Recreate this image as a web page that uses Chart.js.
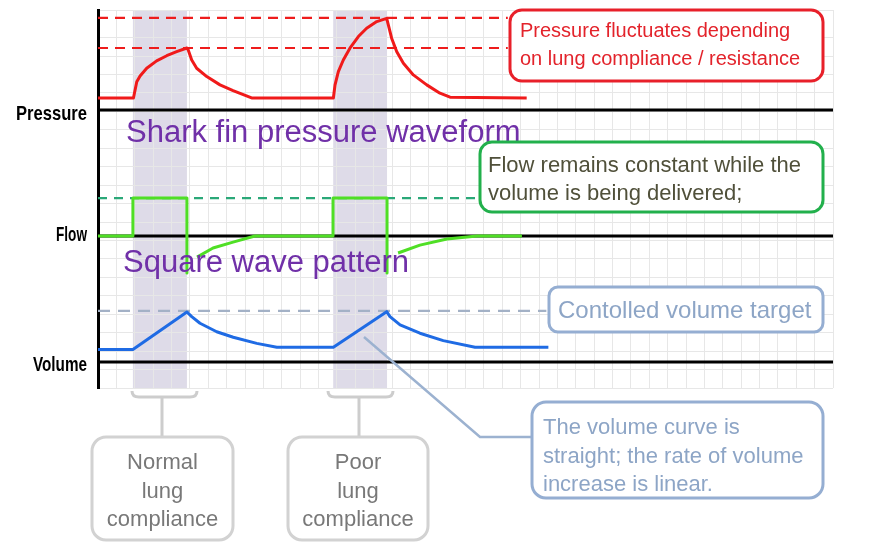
<!DOCTYPE html>
<html>
<head>
<meta charset="utf-8">
<script src="https://cdn.jsdelivr.net/npm/chart.js@4"></script>
<style>
html, body { margin: 0; padding: 0; background: #fff; }
#wave { display: block; }
</style>
</head>
<body>
<canvas id="wave" width="870" height="554"></canvas>
<script>
// x = time in grid cells, waveform values = grid cells above each trace's own baseline
const pressureTime  = [0, 1.93, 2.11, 2.29, 2.65, 3.19, 3.74, 4.28, 4.84, 4.91, 5.10, 5.37, 5.92, 6.64, 7.35, 8.36,
                       12.81, 12.90, 13.08, 13.35, 13.71, 14.17, 14.62, 15.17, 15.71, 15.80, 15.98, 16.26, 16.62, 17.16, 17.89, 18.61, 19.16, 23.33];
const pressureValue = [0.65, 0.65, 1.53, 1.84, 2.26, 2.66, 2.94, 3.16, 3.36, 3.25, 2.71, 2.26, 1.81, 1.36, 1.05, 0.65,
                       0.65, 1.36, 2.08, 2.71, 3.35, 3.98, 4.43, 4.79, 4.97, 4.61, 3.89, 3.16, 2.53, 1.90, 1.36, 0.91, 0.69, 0.65];

const flowTime  = [0, 1.9, 1.9, 4.84, 4.84, 5.1, 5.39, 6.26, 7.35, 8.54, 12.79, 12.79, 15.73, 15.73, 16.0, 16.33, 17.52, 18.99, 20.63, 23.07];
const flowValue = [0, 0, 2.06, 2.06, -2.01, null, -1.14, -0.65, -0.33, 0, 0, 2.06, 2.06, -2.01, null, -0.92, -0.49, -0.16, 0, 0];

const volumeTime  = [0, 1.9, 4.84, 5.10, 5.55, 6.46, 7.36, 8.64, 9.73, 12.81, 15.71, 15.89, 16.44, 17.52, 18.79, 20.52, 24.51];
const volumeValue = [0.68, 0.68, 2.71, 2.46, 2.10, 1.64, 1.34, 1.01, 0.80, 0.80, 2.73, 2.46, 2.01, 1.56, 1.16, 0.80, 0.80];

// dashed reference levels (same units) and where they stop
const pressureLimits = [3.36, 4.99];
const flowSetting = 2.06;
const volumeTarget = 2.77;
const limitEnd = [22.3, 20.8, 24.4];

// baselines of the three traces on the shared y axis
const traceNames = ['Pressure', 'Flow', 'Volume'];
const traceBase = [15.08, 8.24, 1.41];

// shaded inspiration windows
const bandStart = [1.9, 12.8];
const bandEnd = [4.84, 15.73];

const xMax = 40, yMax = 20.5;

const toPoints = (ts, vs, base) => ts.map((t, i) => ({ x: t, y: vs[i] === null ? null : base + vs[i] }));
const hline = (y, x1) => [{ x: 0, y: y }, { x: x1, y: y }];

const datasets = [];
traceBase.forEach(b => datasets.push({ data: hline(b, xMax), borderColor: '#000', borderWidth: 3, order: 10 }));
pressureLimits.forEach(p => datasets.push({
    data: hline(traceBase[0] + p, limitEnd[0]), borderColor: '#ee1c1c', borderWidth: 2.2, borderDash: [10, 7], order: 5
}));
datasets.push({ data: hline(traceBase[1] + flowSetting, limitEnd[1]), borderColor: '#2aa878', borderWidth: 2.2, borderDash: [9, 7], order: 5 });
datasets.push({ data: hline(traceBase[2] + volumeTarget, limitEnd[2]), borderColor: '#a3b1c6', borderWidth: 2.2, borderDash: [12, 8], order: 5 });
datasets.push({ data: toPoints(pressureTime, pressureValue, traceBase[0]), borderColor: '#f01a1a', borderWidth: 3, order: 0 });
datasets.push({ data: toPoints(flowTime, flowValue, traceBase[1]), borderColor: '#4fdf25', borderWidth: 3, order: 0 });
datasets.push({ data: toPoints(volumeTime, volumeValue, traceBase[2]), borderColor: '#1f6be4', borderWidth: 3, order: 0 });

function fitText(ctx, text, right, y, width) {
    const w = ctx.measureText(text).width;
    ctx.save();
    ctx.translate(right, y);
    ctx.scale(width / w, 1);
    ctx.fillText(text, 0, 0);
    ctx.restore();
}

function box(ctx, x, y, w, h, r, color, lw) {
    ctx.save();
    ctx.beginPath();
    ctx.roundRect(x, y, w, h, r);
    ctx.fillStyle = '#fff';
    ctx.fill();
    ctx.lineWidth = lw;
    ctx.strokeStyle = color;
    ctx.stroke();
    ctx.restore();
}

function lines(ctx, arr, x, y0, step) {
    arr.forEach((t, i) => ctx.fillText(t, x, y0 + i * step));
}

function bracket(ctx, x0, x1, stem, yTop, yBox) {
    ctx.beginPath();
    ctx.moveTo(x0, yTop - 6);
    ctx.quadraticCurveTo(x0, yTop, x0 + 7, yTop);
    ctx.lineTo(x1 - 7, yTop);
    ctx.quadraticCurveTo(x1, yTop, x1, yTop - 6);
    ctx.moveTo(stem, yTop);
    ctx.lineTo(stem, yBox);
    ctx.stroke();
}

const overlay = {
    id: 'overlay',
    beforeDraw(chart) {
        const { ctx, chartArea, scales: { x } } = chart;
        ctx.save();
        ctx.fillStyle = '#dedbe8';
        bandStart.forEach((s, i) => {
            const a = x.getPixelForValue(s), b = x.getPixelForValue(bandEnd[i]);
            ctx.fillRect(a, chartArea.top, b - a, chartArea.bottom - chartArea.top);
        });
        ctx.restore();
    },
    afterDraw(chart) {
        const { ctx, scales: { y } } = chart;
        ctx.save();

        // trace names
        ctx.fillStyle = '#000';
        ctx.font = 'bold 21px "Liberation Sans"';
        ctx.textAlign = 'right';
        ctx.textBaseline = 'middle';
        const nameWidth = [71, 31, 54];
        const nameShift = [4, -1, 3];
        traceNames.forEach((n, i) => fitText(ctx, n, 87, y.getPixelForValue(traceBase[i]) + nameShift[i], nameWidth[i]));

        // purple captions
        ctx.textAlign = 'left';
        ctx.textBaseline = 'alphabetic';
        ctx.fillStyle = '#7030a8';
        ctx.font = '31px "Liberation Sans"';
        ctx.fillText('Shark fin pressure waveform', 126, 142);
        ctx.fillText('Square wave pattern', 123, 272);

        // connector to volume note
        ctx.strokeStyle = '#9cb2d0';
        ctx.lineWidth = 2.5;
        ctx.beginPath();
        ctx.moveTo(364, 337);
        ctx.lineTo(480, 437);
        ctx.lineTo(533, 437);
        ctx.stroke();

        // pressure note
        box(ctx, 510, 10, 313, 71, 12, '#e8202a', 3);
        ctx.fillStyle = '#e3232b';
        ctx.font = '20px "Liberation Sans"';
        lines(ctx, ['Pressure fluctuates depending', 'on lung compliance / resistance'], 520, 37, 28);

        // flow note
        box(ctx, 480, 142, 343, 70, 12, '#22b04c', 3);
        ctx.fillStyle = '#50503a';
        ctx.font = '22px "Liberation Sans"';
        lines(ctx, ['Flow remains constant while the', 'volume is being delivered;'], 488, 172, 28);

        // volume notes
        box(ctx, 549, 287, 274, 45, 9, '#95aed2', 3);
        ctx.fillStyle = '#8da5c6';
        ctx.font = '24px "Liberation Sans"';
        ctx.fillText('Contolled volume target', 558, 318);

        box(ctx, 532, 402, 291, 96, 14, '#95aed2', 3);
        ctx.fillStyle = '#8da5c6';
        ctx.font = '22px "Liberation Sans"';
        lines(ctx, ['The volume curve is', 'straight; the rate of volume', 'increase is linear.'], 543, 434, 28.5);

        // compliance labels
        ctx.strokeStyle = '#cdcdcd';
        ctx.lineWidth = 3;
        bracket(ctx, 132, 197, 162, 397, 437);
        bracket(ctx, 328, 393, 359, 397, 437);
        box(ctx, 92, 437, 141, 103, 14, '#d2d2d2', 3);
        box(ctx, 288, 437, 140, 103, 14, '#d2d2d2', 3);
        ctx.fillStyle = '#787878';
        ctx.font = '22px "Liberation Sans"';
        ctx.textAlign = 'center';
        lines(ctx, ['Normal', 'lung', 'compliance'], 162.5, 469, 28.5);
        lines(ctx, ['Poor', 'lung', 'compliance'], 358, 469, 28.5);

        ctx.restore();
    }
};

new Chart(document.getElementById('wave').getContext('2d'), {
    type: 'line',
    data: { datasets: datasets },
    options: {
        responsive: false,
        animation: false,
        devicePixelRatio: 1,
        layout: { padding: { left: 98, right: 37, top: 10, bottom: 166 } },
        plugins: { legend: { display: false }, tooltip: { enabled: false } },
        elements: {
            point: { radius: 0 },
            line: { tension: 0, borderJoinStyle: 'round', fill: false }
        },
        scales: {
            x: {
                type: 'linear', min: 0, max: xMax,
                ticks: { display: false, stepSize: 1 },
                grid: { color: '#e7e7e7', drawTicks: false },
                border: { display: false }
            },
            y: {
                min: 0, max: yMax,
                ticks: { display: false, stepSize: 1 },
                grid: { color: '#e7e7e7', drawTicks: false },
                border: { display: true, color: '#000', width: 3 }
            }
        }
    },
    plugins: [overlay]
});
</script>
</body>
</html>
